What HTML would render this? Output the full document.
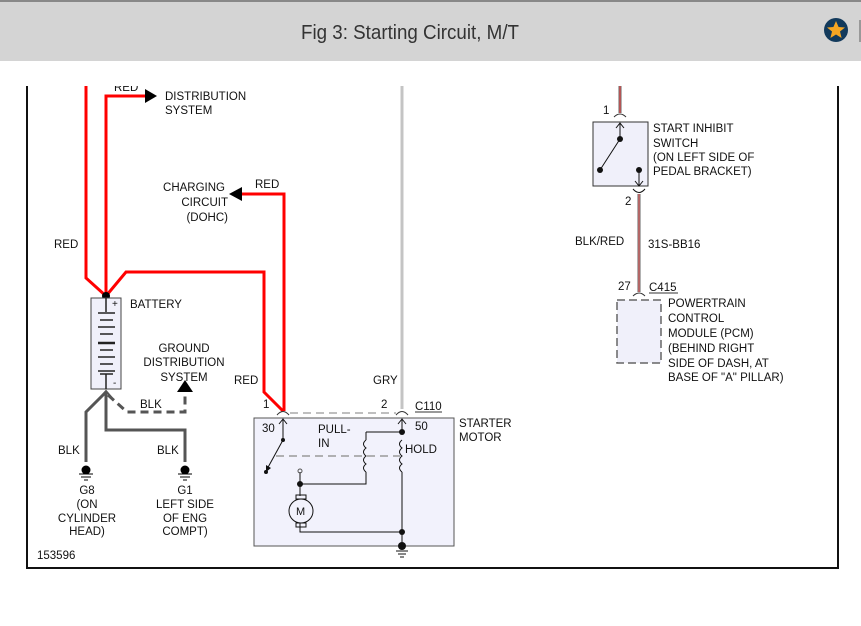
<!DOCTYPE html>
<html><head><meta charset="utf-8"><style>
html,body{margin:0;padding:0;background:#fff;width:861px;height:626px;overflow:hidden}
svg{display:block}
text{font-family:"Liberation Sans",sans-serif;font-size:11.5px;fill:#111}
</style></head><body>
<svg width="861" height="626" viewBox="0 0 861 626">
<text x="114" y="91">RED</text>
<rect x="0" y="61" width="861" height="25" fill="#fff"/>
<rect x="0" y="0" width="861" height="61" fill="#d4d4d4"/>
<rect x="0" y="0" width="861" height="2" fill="#888"/>
<text x="410" y="39" text-anchor="middle" textLength="218" lengthAdjust="spacingAndGlyphs" style="font-size:20px;fill:#333">Fig 3: Starting Circuit, M/T</text>
<circle cx="836" cy="30" r="12" fill="#123a5c"/>
<polygon points="836,21 838.6,27 845,27.5 840,31.5 841.6,38 836,34.5 830.4,38 832,31.5 827,27.5 833.4,27" fill="#f5a623"/>
<rect x="859" y="20" width="2" height="22" fill="#999"/>
<g stroke="#111" stroke-width="2" fill="none">
<line x1="27" y1="86" x2="27" y2="569"/><line x1="838" y1="86" x2="838" y2="569"/><line x1="26" y1="568" x2="839" y2="568"/>
</g>
<g stroke="#f00" stroke-width="3" fill="none">
<polyline points="86,86 86,278 106,296"/>
<polyline points="106,296 106,96 147,96"/>
<polyline points="106,296 126,272 264,272 264,392 283,411"/>
<polyline points="284,411 284,194 240,194"/>
</g>
<polygon points="145,89 157,96 145,103" fill="#000"/>
<polygon points="242,187 229,194 242,201" fill="#000"/>
<circle cx="106" cy="296" r="4" fill="#000"/>
<text x="165" y="100">DISTRIBUTION</text><text x="165" y="114">SYSTEM</text>
<text x="255" y="188">RED</text>
<text x="225" y="191" text-anchor="end">CHARGING</text>
<text x="228" y="206" text-anchor="end">CIRCUIT</text>
<text x="228" y="221" text-anchor="end">(DOHC)</text>
<text x="54" y="248">RED</text>
<rect x="91" y="298" width="30" height="91" fill="#f0f0fa" stroke="#444"/>
<g stroke="#222" stroke-width="1.5">
<line x1="106" y1="298" x2="106" y2="312"/><line x1="106" y1="374" x2="106" y2="389"/>
<line x1="98" y1="313" x2="115" y2="313"/><line x1="100" y1="320" x2="113" y2="320"/>
<line x1="98" y1="327" x2="115" y2="327"/><line x1="100" y1="334" x2="113" y2="334"/>
<line x1="98" y1="343" x2="115" y2="343" stroke-width="2.5"/><line x1="100" y1="350" x2="113" y2="350"/>
<line x1="98" y1="357" x2="115" y2="357"/><line x1="100" y1="364" x2="113" y2="364"/>
<line x1="98" y1="371" x2="115" y2="371"/><line x1="100" y1="374" x2="113" y2="374"/>
</g>
<text x="112" y="307" style="font-size:10px">+</text><text x="113" y="386" style="font-size:10px">-</text>
<text x="130" y="308">BATTERY</text>
<g stroke="#555" stroke-width="3" fill="none">
<polyline points="106,392 86,412 86,462"/>
<polyline points="106,392 106,430 185,430 185,462"/>
<polyline points="108,395 127,412 185,412 185,392" stroke-dasharray="8,5"/>
</g>
<polyline points="100,398 106,391 112,398" stroke="#555" stroke-width="2" fill="none"/>
<polygon points="185,380 177,392 193,392" fill="#000"/>
<text x="184" y="352" text-anchor="middle">GROUND</text>
<text x="184" y="366" text-anchor="middle">DISTRIBUTION</text>
<text x="184" y="381" text-anchor="middle">SYSTEM</text>
<text x="140" y="408">BLK</text><text x="58" y="454">BLK</text><text x="157" y="454">BLK</text>
<g stroke="#000" stroke-width="1">
<circle cx="86" cy="470" r="4" fill="#000"/><line x1="79" y1="474" x2="93" y2="474"/><line x1="81" y1="477" x2="91" y2="477"/><line x1="84" y1="480" x2="88" y2="480"/>
<circle cx="185" cy="470" r="4" fill="#000"/><line x1="178" y1="474" x2="192" y2="474"/><line x1="180" y1="477" x2="190" y2="477"/><line x1="183" y1="480" x2="187" y2="480"/>
</g>
<g text-anchor="middle">
<text x="87" y="494">G8</text><text x="87" y="508">(ON</text><text x="87" y="522">CYLINDER</text><text x="87" y="535">HEAD)</text>
<text x="185" y="494">G1</text><text x="185" y="508">LEFT SIDE</text><text x="185" y="522">OF ENG</text><text x="185" y="535">COMPT)</text>
</g>
<text x="37" y="559">153596</text>
<line x1="402" y1="86" x2="402" y2="409" stroke="#c4c4c4" stroke-width="3"/>
<text x="234" y="384">RED</text><text x="373" y="384">GRY</text>
<text x="263" y="408">1</text><text x="381" y="408">2</text>
<text x="415" y="410">C110</text><line x1="415" y1="412" x2="442" y2="412" stroke="#333"/>
<line x1="290" y1="413" x2="396" y2="413" stroke="#aaa" stroke-width="1.5" stroke-dasharray="8,5"/>
<path d="M277,415 Q283,408 289,415 M396,415 Q402,408 408,415" stroke="#333" fill="none"/>
<rect x="254" y="418" width="200" height="128" fill="#f2f2fc" stroke="#555"/>
<text x="459" y="427">STARTER</text><text x="459" y="441">MOTOR</text>
<text x="262" y="432">30</text><text x="415" y="430">50</text>
<text x="318" y="433">PULL-</text><text x="318" y="447">IN</text><text x="405" y="453">HOLD</text>
<g stroke="#111" stroke-width="1" fill="none">
<line x1="283" y1="419" x2="283" y2="440"/><polyline points="279,424 283,419 287,424"/>
<line x1="402" y1="419" x2="402" y2="432"/><polyline points="398,424 402,419 406,424"/>
<line x1="283" y1="440" x2="266" y2="471"/>
<polyline points="366,472 366,484 300,484 300,472"/>
<polyline points="366,432 402,432"/>
<line x1="366" y1="432" x2="366" y2="440"/>
<path d="M366,440 q-5,4 0,8 q-5,4 0,8 q-5,4 0,8 q-5,4 0,8"/>
<path d="M402,440 q-5,4 0,8 q-5,4 0,8 q-5,4 0,8 q-5,4 0,8"/>
<line x1="402" y1="472" x2="402" y2="546"/>
<polyline points="402,532 300,532 300,523"/>
<line x1="300" y1="484" x2="300" y2="496"/>
<circle cx="301" cy="511" r="12"/>
<rect x="296" y="495" width="10" height="4"/><rect x="296" y="523" width="10" height="4"/>
<line x1="396" y1="551" x2="408" y2="551"/><line x1="398" y1="554" x2="406" y2="554"/><line x1="400" y1="557" x2="404" y2="557"/>
</g>
<line x1="276" y1="456" x2="400" y2="456" stroke="#999" stroke-width="1.5" stroke-dasharray="8,5"/>
<polygon points="266,472 266,465 271,468" fill="#111"/>
<g fill="#111">
<circle cx="283" cy="440" r="2"/><circle cx="266" cy="472" r="2"/>
<circle cx="402" cy="432" r="3"/><circle cx="300" cy="484" r="3"/><circle cx="402" cy="532" r="3"/><circle cx="402" cy="546" r="4"/>
</g>
<circle cx="300" cy="471" r="2" fill="none" stroke="#555"/>
<text x="296" y="515" style="font-size:11px">M</text>
<line x1="620" y1="86" x2="620" y2="113" stroke="#666" stroke-width="3"/><line x1="620" y1="86" x2="620" y2="113" stroke="#f44" stroke-width="1"/>
<path d="M614,117 Q620,111 626,117" stroke="#333" fill="none"/>
<text x="603" y="114">1</text>
<rect x="593" y="122" width="55" height="64" fill="#f0f0fa" stroke="#333"/>
<g stroke="#111" fill="none">
<line x1="620" y1="123" x2="620" y2="139"/><polyline points="616,128 620,123 624,128"/>
<line x1="620" y1="139" x2="600" y2="170"/>
<line x1="639" y1="170" x2="639" y2="186"/><polyline points="635,181 639,186 643,181"/>
<path d="M633,189 Q639,196 645,189"/>
</g>
<g fill="#111"><circle cx="620" cy="139" r="3"/><circle cx="600" cy="170" r="3"/><circle cx="639" cy="170" r="3"/></g>
<text x="653" y="132">START INHIBIT</text><text x="653" y="147">SWITCH</text><text x="653" y="161">(ON LEFT SIDE OF</text><text x="653" y="175">PEDAL BRACKET)</text>
<text x="625" y="205">2</text>
<line x1="639" y1="194" x2="639" y2="292" stroke="#666" stroke-width="3"/><line x1="639" y1="194" x2="639" y2="292" stroke="#f66" stroke-width="1"/>
<text x="575" y="245">BLK/RED</text><text x="648" y="248">31S-BB16</text>
<text x="618" y="290">27</text><text x="649" y="291">C415</text><line x1="649" y1="293" x2="678" y2="293" stroke="#333"/>
<path d="M633,296 Q639,290 645,296" stroke="#333" fill="none"/>
<rect x="617" y="300" width="44" height="63" fill="#f0f0fa" stroke="#666" stroke-width="1.5" stroke-dasharray="8,4"/>
<text x="668" y="307">POWERTRAIN</text><text x="668" y="322">CONTROL</text><text x="668" y="337">MODULE (PCM)</text><text x="668" y="352">(BEHIND RIGHT</text><text x="668" y="367">SIDE OF DASH, AT</text><text x="668" y="381">BASE OF "A" PILLAR)</text>
</svg>
</body></html>
